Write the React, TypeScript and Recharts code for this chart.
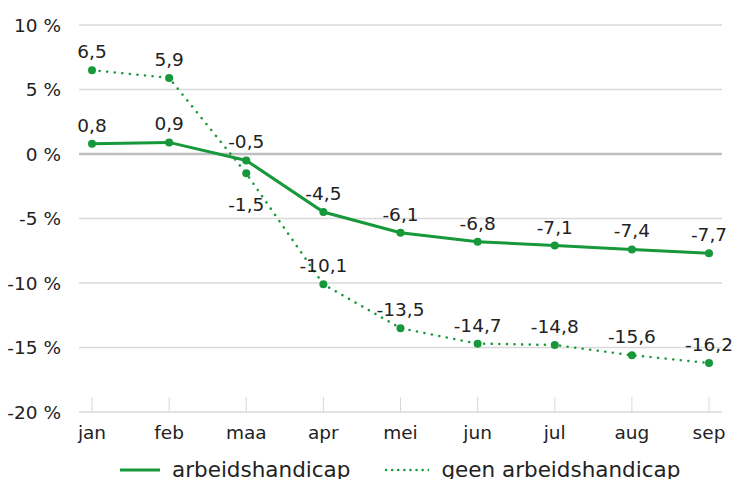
import React from 'react';
import { LineChart, Line, XAxis, YAxis, CartesianGrid, ReferenceLine, Legend, LabelList } from 'recharts';

const months = ['jan', 'feb', 'maa', 'apr', 'mei', 'jun', 'jul', 'aug', 'sep'];
const arbeidshandicap = [0.8, 0.9, -0.5, -4.5, -6.1, -6.8, -7.1, -7.4, -7.7];
const geenArbeidshandicap = [6.5, 5.9, -1.5, -10.1, -13.5, -14.7, -14.8, -15.6, -16.2];
const yTicks = [-20, -15, -10, -5, 0, 5, 10];

const data = months.map((m, i) => ({ m, a: arbeidshandicap[i], g: geenArbeidshandicap[i] }));

const GREEN = '#17983a';
const FONT = '"DejaVu Sans", sans-serif';
const fmt = (v: number) => String(v).replace('.', ',');

const XTick = (props: any) => {
  const { x, y, payload } = props;
  return (
    <g>
      <line x1={x} x2={x} y1={y - 15} y2={y} stroke="#d9d9d9" strokeWidth={1} />
      <text x={x} y={y + 27} textAnchor="middle" fontSize={18.5} fill="#222" fontFamily={FONT}>
        {payload.value}
      </text>
    </g>
  );
};

const makeLabel = (below: (i: number) => boolean) => (props: any) => {
  const { x, y, value, index } = props;
  const b = below(index);
  return (
    <text x={x} y={b ? y + 38 : y - 12} textAnchor="middle" fontSize={18.5} fill="#222" fontFamily={FONT}>
      {fmt(value)}
    </text>
  );
};

const LegendContent = () => (
  <div style={{ display: 'flex', justifyContent: 'flex-start', alignItems: 'center', fontFamily: FONT, fontSize: 21.5, color: '#222', paddingTop: 8, paddingLeft: 120, whiteSpace: 'nowrap' }}>
    <svg width={40} height={10} style={{ marginRight: 12 }}>
      <line x1={0} x2={40} y1={5} y2={5} stroke={GREEN} strokeWidth={3} />
    </svg>
    <span style={{ marginRight: 34 }}>arbeidshandicap</span>
    <svg width={45} height={10} style={{ marginRight: 12 }}>
      <line x1={2} x2={45} y1={5} y2={5} stroke={GREEN} strokeWidth={2.5} strokeDasharray="0.1 6" strokeLinecap="round" />
    </svg>
    <span>geen arbeidshandicap</span>
  </div>
);

export default function App() {
  return (
    <div style={{ position: 'absolute', left: 0, top: 0, width: 734, height: 479, background: '#fff', overflow: 'hidden' }}>
      <LineChart width={734} height={479} data={data} margin={{ top: 25, right: 12, left: 0, bottom: 0 }}>
        <CartesianGrid vertical={false} stroke="#d9d9d9" strokeWidth={1.5} />
        <ReferenceLine y={0} stroke="#bfbfbf" strokeWidth={2.5} />
        <XAxis
          dataKey="m"
          axisLine={false}
          tickLine={false}
          tickSize={0}
          tickMargin={0}
          height={37}
          padding={{ left: 13, right: 13 }}
          interval={0}
          tick={<XTick />}
        />
        <YAxis
          domain={[-20, 10]}
          ticks={yTicks}
          width={79}
          axisLine={false}
          tickLine={false}
          tickMargin={12}
          tickFormatter={(v: number) => `${v} %`}
          tick={{ fontSize: 18.5, fill: '#222', fontFamily: FONT }}
        />
        <Legend verticalAlign="bottom" height={30} content={<LegendContent />} />
        <Line
          dataKey="a"
          name="arbeidshandicap"
          stroke={GREEN}
          strokeWidth={3}
          dot={{ r: 4, fill: GREEN, stroke: GREEN, strokeWidth: 0 }}
          isAnimationActive={false}
        >
          <LabelList dataKey="a" content={makeLabel(() => false)} />
        </Line>
        <Line
          dataKey="g"
          name="geen arbeidshandicap"
          stroke={GREEN}
          strokeWidth={2.5}
          strokeDasharray="0.1 7.5"
          strokeLinecap="round"
          dot={{ r: 4, fill: GREEN, stroke: GREEN, strokeWidth: 0, strokeDasharray: '' }}
          isAnimationActive={false}
        >
          <LabelList dataKey="g" content={makeLabel((i) => i === 2)} />
        </Line>
      </LineChart>
    </div>
  );
}
